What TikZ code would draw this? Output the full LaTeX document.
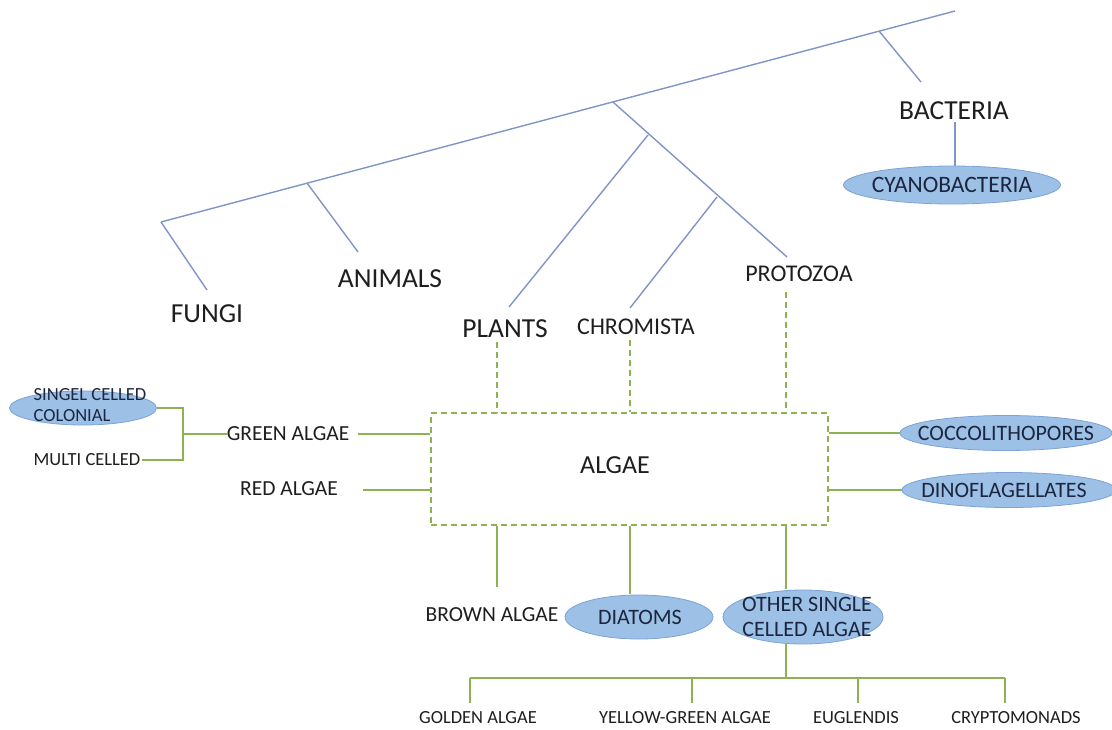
\documentclass[tikz,border=0pt]{standalone}
\usepackage{fontspec}
\setmainfont{Carlito}
\usetikzlibrary{shapes.geometric}
\definecolor{bline}{RGB}{128,148,198}
\definecolor{gline}{RGB}{140,178,82}
\definecolor{efill}{RGB}{157,192,230}
\definecolor{edraw}{RGB}{125,162,212}
\definecolor{etext}{RGB}{28,38,64}
\definecolor{ttext}{RGB}{30,30,30}
\tikzset{
  tree/.style={draw=bline, line width=1.4pt},
  gr/.style={draw=gline, line width=1.1pt},
  grdash/.style={draw=gline, line width=1.1pt, dash pattern=on 6pt off 4pt},
  big/.style={inner sep=0pt, text=ttext, font=\fontsize{27.5}{32}\selectfont},
  mid/.style={inner sep=0pt, text=ttext, font=\fontsize{24}{28}\selectfont},
  sml/.style={inner sep=0pt, text=ttext, font=\fontsize{21.5}{25}\selectfont},
  tiny/.style={inner sep=0pt, text=ttext, font=\fontsize{18.5}{22}\selectfont},
  oval/.style={ellipse, fill=efill, draw=edraw, line width=0.8pt, inner sep=0pt},
  ovaltext/.style={inner sep=0pt, text=etext, font=\fontsize{22}{25}\selectfont, align=center},
}
\begin{document}
\begin{tikzpicture}[x=1pt,y=-1pt]
\useasboundingbox (0,0) rectangle (1112,729);
% tree coordinates
\coordinate (r1) at (161,222);
\coordinate (r2) at (955,11);
\coordinate (bA) at (307,183);
\coordinate (bP) at (613,102);
\coordinate (bB) at (879,31);
\coordinate (fE) at (207,290);
\coordinate (aE) at (358,252);
\coordinate (pP) at (648,135);
\coordinate (pC) at (717,197);
\coordinate (pE) at (787,257);
\coordinate (plE) at (509,307);
\coordinate (chE) at (630,308);
\coordinate (baE) at (921,82);
% tree labels
\node[big] (fungi) at (207,314) {FUNGI};
\node[big] (animals) at (390,279) {ANIMALS};
\node[big] (plants) at (505,329) {PLANTS};
\node[mid] (chrom) at (636,327) {CHROMISTA};
\node[mid] (proto) at (799,274) {PROTOZOA};
\node[big] (bact) at (954,111) {BACTERIA};
\node[oval, minimum width=217pt, minimum height=38pt] (cyano) at (952,185) {};
\node[ovaltext, font=\fontsize{23.5}{27}\selectfont] at (cyano) {CYANOBACTERIA};
% tree lines
\draw[tree] (r1) -- (r2);
\draw[tree] (r1) -- (fE);
\draw[tree] (bA) -- (aE);
\draw[tree] (bP) -- (pE);
\draw[tree] (pP) -- (plE);
\draw[tree] (pC) -- (chE);
\draw[tree] (bB) -- (baE);
\coordinate (bs) at (955,122);
\draw[tree] (bs) -- (bs |- cyano.north);
% algae box
\node[grdash, minimum width=397pt, minimum height=112pt, inner sep=0pt] (algae) at (629.5,469) {};
\node[inner sep=0pt, text=ttext, font=\fontsize{26}{30}\selectfont] (algaet) at (615,465) {ALGAE};
% dashed links
\coordinate (plD) at (497,342);
\coordinate (chD) at (630,340);
\coordinate (prD) at (786,292);
\draw[grdash] (plD) -- (plD |- algae.north);
\draw[grdash] (chD) -- (chD |- algae.north);
\draw[grdash] (prD) -- (prD |- algae.north);
% left side
\node[sml] (green) at (288,434) {GREEN ALGAE};
\node[sml] (red) at (289,489) {RED ALGAE};
\coordinate (gL) at (358,434);
\coordinate (rL) at (363,490);
\draw[gr] (gL) -- (gL -| algae.west);
\draw[gr] (rL) -- (rL -| algae.west);
\node[oval, minimum width=147pt, minimum height=34pt] (singel) at (83,408) {};
\node[ovaltext, align=left, font=\fontsize{18.5}{21}\selectfont] at (90,405) {SINGEL CELLED\\COLONIAL};
\node[tiny] (multi) at (87,460) {MULTI CELLED};
\coordinate (brT) at (183,408);
\coordinate (brB) at (183,460);
\coordinate (brM) at (183,434);
\coordinate (mE) at (142,460);
\coordinate (gS) at (228,434);
\draw[gr] (singel.east) -- (brT) -- (brB) -- (mE);
\draw[gr] (brM) -- (gS);
% right side
\node[oval, minimum width=212pt, minimum height=35pt] (cocco) at (1006,433) {};
\node[ovaltext] at (1006,433) {COCCOLITHOPORES};
\node[oval, minimum width=214pt, minimum height=35pt] (dino) at (1009,490) {};
\node[ovaltext] at (1004,490) {DINOFLAGELLATES};
\draw[gr] (algae.east |- cocco.west) -- (cocco.west);
\draw[gr] (algae.east |- dino.west) -- (dino.west);
% bottom
\node[sml] (brown) at (492,615) {BROWN ALGAE};
\node[oval, minimum width=148pt, minimum height=44pt] (diat) at (639,617) {};
\node[ovaltext] at (640,617) {DIATOMS};
\node[oval, minimum width=160pt, minimum height=54pt] (other) at (803,617) {};
\node[ovaltext] at (807,617) {OTHER SINGLE\\CELLED ALGAE};
\coordinate (bwE) at (497,587);
\coordinate (dtE) at (630,594);
\coordinate (otE) at (786,589);
\draw[gr] (bwE |- algae.south) -- (bwE);
\draw[gr] (dtE |- algae.south) -- (dtE);
\draw[gr] (otE |- algae.south) -- (otE);
% sub-branches
\coordinate (hub) at (786,678);
\coordinate (hL) at (470,678);
\coordinate (hR) at (1005,678);
\node[tiny] (golden) at (478,718) {GOLDEN ALGAE};
\node[tiny] (yellow) at (685,718) {YELLOW-GREEN ALGAE};
\node[tiny] (eugl) at (856,718) {EUGLENDIS};
\node[tiny] (crypt) at (1016,718) {CRYPTOMONADS};
\coordinate (oB) at (786,644);
\draw[gr] (oB) -- (hub);
\draw[gr] (hL) -- (hR);
\coordinate (v1) at (470,703);
\coordinate (v2) at (692,703);
\coordinate (v3) at (858,703);
\coordinate (v4) at (1005,703);
\draw[gr] (hL) -- (v1);
\draw[gr] (v2 |- hL) -- (v2);
\draw[gr] (v3 |- hL) -- (v3);
\draw[gr] (hR) -- (v4);
\end{tikzpicture}
\end{document}
